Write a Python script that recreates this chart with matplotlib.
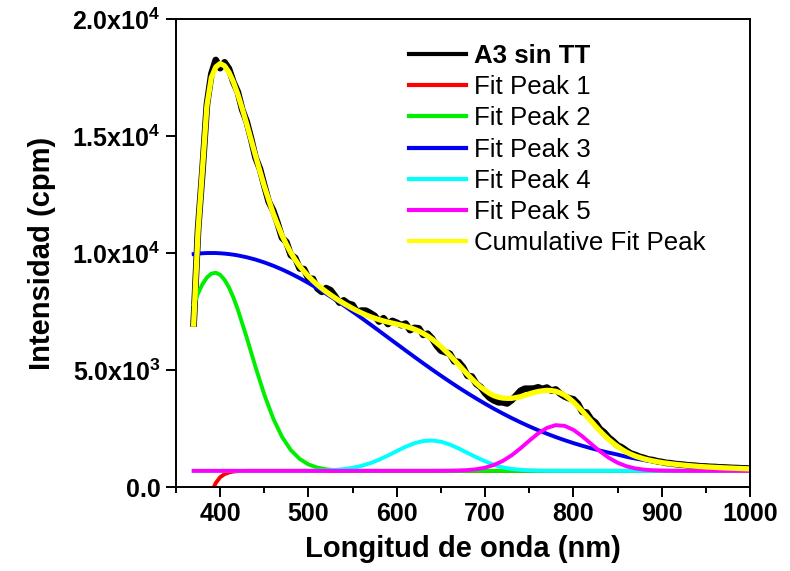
#! /usr/bin/env python3
import matplotlib
matplotlib.use("Agg")
import matplotlib.pyplot as plt

# fonts: Arial look-alike, bold ticks
plt.rcParams['font.family'] = ['Liberation Sans', 'DejaVu Sans']
plt.rcParams['mathtext.default'] = 'regular'

# measured spectrum (5 nm steps)
wl = list(range(370, 1005, 5))
data_y = [6990, 11030, 13550, 16350, 17650, 18250, 17900, 18150, 17870, 17300,
          16880, 16120, 15620, 14890, 14080, 13600, 12880, 12190, 11820, 11280,
          10650, 10470, 9910, 9790, 9340, 9310, 8900, 8895, 8490, 8340,
          8500, 8410, 8160, 7880, 7975, 7835, 7780, 7480, 7540, 7535,
          7430, 7310, 7070, 7215, 6965, 7100, 7020, 6915, 6985, 6705,
          6800, 6780, 6500, 6550, 6345, 6045, 5825, 5760, 5695, 5370,
          5345, 5120, 4755, 4720, 4405, 4270, 4010, 3820, 3700, 3620,
          3620, 3570, 3710, 3900, 4110, 4200, 4200, 4205, 4260, 4190,
          4250, 4120, 4170, 3990, 3870, 3790, 3750, 3560, 3210, 3180,
          2890, 2750, 2475, 2325, 2110, 1955, 1775, 1685, 1550, 1430,
          1370, 1290, 1240, 1175, 1150, 1100, 1070, 1030, 1015, 985,
          965, 950, 925, 915, 900, 880, 875, 860, 855, 840,
          835, 825, 815, 810, 800, 795, 785]

# cumulative fit (same grid)
cum_y = [6961, 10981, 13598, 16302, 17499, 17946, 18097, 17997, 17719, 17304,
         16781, 16170, 15522, 14840, 14162, 13500, 12854, 12270, 11702, 11220,
         10754, 10370, 10009, 9710, 9438, 9210, 8997, 8815, 8644, 8490,
         8347, 8210, 8082, 7960, 7844, 7735, 7629, 7530, 7439, 7355,
         7278, 7212, 7150, 7096, 7047, 7002, 6959, 6913, 6865, 6806,
         6740, 6660, 6561, 6450, 6316, 6165, 6005, 5820, 5633, 5430,
         5225, 5020, 4814, 4620, 4433, 4270, 4130, 4000, 3900, 3840,
         3800, 3790, 3790, 3820, 3860, 3920, 3980, 4035, 4080, 4110,
         4130, 4120, 4090, 4020, 3930, 3790, 3630, 3440, 3242, 3030,
         2812, 2600, 2395, 2205, 2028, 1875, 1733, 1605, 1489, 1400,
         1321, 1260, 1202, 1155, 1114, 1078, 1045, 1018, 995, 972,
         952, 933, 915, 900, 885, 872, 860, 850, 840, 830,
         820, 812, 805, 797, 790, 782, 775]

# fit peaks
p1_x = [370, 375, 380, 385, 390, 395, 400, 405, 410, 415, 420, 430, 440, 1000]
p1_y = [-9410, -5890, -3680, -1270, -240, 170, 420, 550, 620, 660, 680, 688, 690, 690]

p2_x = [370, 375, 380, 385, 390, 395, 400, 405, 410, 415, 420, 430, 440, 450,
        460, 470, 480, 490, 500, 510, 520, 530, 540, 550, 560, 570, 1000]
p2_y = [7797, 8277, 8669, 8953, 9119, 9157, 9068, 8853, 8525, 8095, 7583, 6395,
        5133, 3946, 2935, 2146, 1578, 1200, 965, 830, 757, 720, 703, 696, 692, 690, 690]

p3_x = [370, 375, 380, 385, 390, 395, 400, 405, 410, 415, 420] + list(range(430, 1010, 10))
p3_y = [9954, 9974, 9989, 9999, 10000, 9999, 9989, 9974, 9954, 9929, 9898,
        9819, 9719, 9598, 9457, 9298, 9120, 8926, 8717, 8494, 8259,
        8012, 7756, 7493, 7224, 6949, 6672, 6392, 6113, 5835, 5559,
        5286, 5018, 4757, 4501, 4252, 4012, 3781, 3558, 3344, 3141,
        2948, 2765, 2592, 2429, 2277, 2134, 2001, 1877, 1763, 1656,
        1559, 1468, 1386, 1290, 1215, 1150, 1090, 1035, 990, 950,
        915, 885, 860, 840, 820, 805, 790, 775]

p4_x = [370] + list(range(460, 810, 10)) + [1000]
p4_y = [690, 690, 690, 691, 692, 695, 700, 711, 730, 765, 820, 903, 1019, 1168,
        1345, 1536, 1720, 1871, 1965, 1988, 1936, 1816, 1649, 1459, 1272, 1100,
        950, 840, 775, 735, 712, 700, 694, 692, 691, 690, 690]

p5_x = [370] + list(range(640, 940, 10)) + [1000]
p5_y = [690, 690, 692, 696, 704, 723, 760, 827, 941, 1114, 1353, 1650, 1978,
        2288, 2526, 2643, 2613, 2443, 2169, 1846, 1526, 1250, 1037, 889, 796,
        742, 714, 700, 695, 692, 690, 690]

labels = ['A3 sin TT', 'Fit Peak 1', 'Fit Peak 2', 'Fit Peak 3',
          'Fit Peak 4', 'Fit Peak 5', 'Cumulative Fit Peak']
colors = ['black', '#ff0000', '#00ee00', '#0000ee', '#00ffff', '#ff00ff', '#ffff00']

fig = plt.figure(figsize=(7.9, 5.71), dpi=100)
ax = fig.add_axes([0.2228, 0.1471, 0.7266, 0.8196])

ax.plot(wl, data_y, color=colors[0], lw=4.8, solid_joinstyle='round', label=labels[0])
ax.plot(p1_x, p1_y, color=colors[1], lw=2.8, label=labels[1])
ax.plot(p2_x, p2_y, color=colors[2], lw=2.8, label=labels[2])
ax.plot(p3_x, p3_y, color=colors[3], lw=2.8, label=labels[3])
ax.plot(p4_x, p4_y, color=colors[4], lw=2.8, label=labels[4])
ax.plot(p5_x, p5_y, color=colors[5], lw=2.8, label=labels[5])
ax.plot(wl, cum_y, color=colors[6], lw=3.8, solid_joinstyle='round', label=labels[6])

ax.set_xlim(351, 1000)
ax.set_ylim(0, 20000)

ax.set_xticks(range(400, 1100, 100))
ax.set_xticks(range(350, 1050, 50), minor=True)
ax.set_yticks([0, 5000, 10000, 15000, 20000])
ax.set_yticklabels(['0.0', '5.0x10$^{3}$', '1.0x10$^{4}$', '1.5x10$^{4}$', '2.0x10$^{4}$'])

for lab in ax.get_xticklabels() + ax.get_yticklabels():
    lab.set_fontweight('bold')
    lab.set_fontsize(18)

ax.tick_params(which='major', direction='out', length=7, width=1.4, pad=4)
ax.tick_params(which='minor', direction='out', length=4, width=1.4)
ax.tick_params(top=False, right=False)
for sp in ax.spines.values():
    sp.set_linewidth(1.4)

ax.set_xlabel('Longitud de onda (nm)', fontsize=21, fontweight='bold', labelpad=6)
ax.set_ylabel('Intensidad (cpm)', fontsize=21, fontweight='bold', labelpad=12)

leg = ax.legend(loc='upper left', bbox_to_anchor=(0.5177, 0.923),
                bbox_transform=fig.transFigure, frameon=False, fontsize=18.6,
                handlelength=2.2, handletextpad=0.3, labelspacing=0.28,
                borderpad=0, borderaxespad=0)
leg.get_texts()[0].set_fontweight('bold')
for h in leg.get_lines():
    h.set_linewidth(3)

plt.savefig('out.png', dpi=100)
